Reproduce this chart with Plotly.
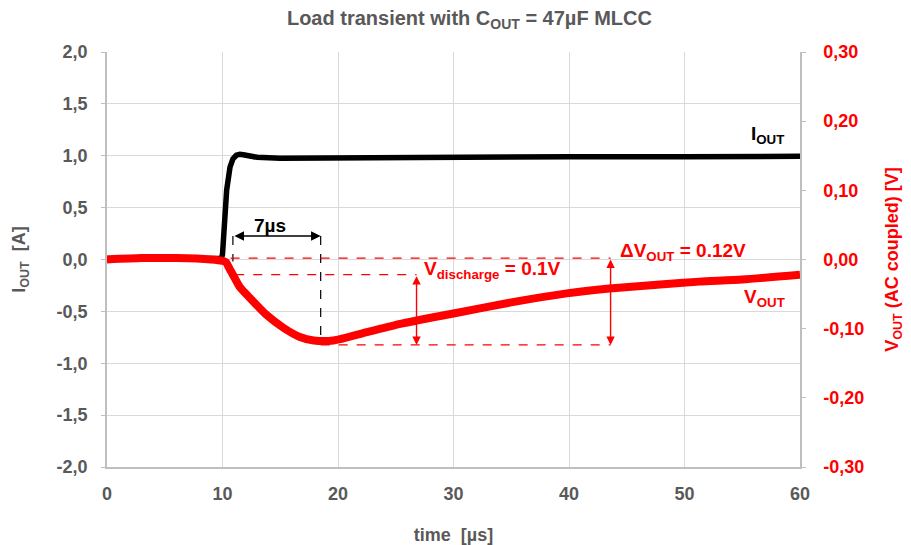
import plotly.graph_objects as go

# ---------------- data ----------------
t_i = [0, 5, 9.9, 10.0, 10.07, 10.36, 10.65, 10.9, 11.2, 11.5, 11.8, 13, 15, 20, 25, 30, 40, 50, 55, 60]
i_out = [0.01, 0.01, 0.01, 0.05, 0.19, 0.67, 0.89, 0.97, 1.005, 1.015, 1.01, 0.985, 0.975, 0.98, 0.985,
         0.99, 0.99, 0.99, 0.995, 0.995]

t_v = [0, 3, 6, 9, 10.0, 10.3, 10.6, 10.9, 11.5, 12.4, 13.8, 15.3, 16.7, 17.9, 19.6, 22.5, 25.4,
       30, 35, 39.8, 43.5, 47.9, 51.3, 55, 60]
v_out = [0.0, 0.002, 0.002, 0.0, -0.002, -0.004, -0.013, -0.022, -0.040, -0.056, -0.080, -0.099,
         -0.112, -0.117, -0.117, -0.105, -0.093, -0.078, -0.062, -0.049, -0.042, -0.036, -0.032,
         -0.029, -0.022]

x_ticks = [0, 10, 20, 30, 40, 50, 60]
i_ticks = [-2.0, -1.5, -1.0, -0.5, 0.0, 0.5, 1.0, 1.5, 2.0]
i_tick_text = ["-2,0", "-1,5", "-1,0", "-0,5", "0,0", "0,5", "1,0", "1,5", "2,0"]
v_ticks = [-0.3, -0.2, -0.1, 0.0, 0.1, 0.2, 0.3]
v_tick_text = ["-0,30", "-0,20", "-0,10", "0,00", "0,10", "0,20", "0,30"]

# annotation levels
t_step = 10.9        # start of step (µs)
t_min = 18.5         # time of minimum (µs)
i_arrow = 0.226      # height of 7µs arrow (A)
v_top = 0.002        # pre-step level (V)
v_knee = -0.022      # knee after ESR drop (V)
v_bottom = -0.1235   # minimum (V)
t_vdis = 26.8        # x of V_discharge arrow
t_dv = 43.6          # x of ΔV arrow

GRAY = "#595959"
RED = "#ff0000"
FONT = "Liberation Sans"
TXT = 19

fig = go.Figure()
fig.add_trace(go.Scatter(x=t_v, y=v_out, yaxis="y2", mode="lines",
                         line=dict(color=RED, width=8, shape="spline", smoothing=0.6),
                         name="VOUT", showlegend=False))
fig.add_trace(go.Scatter(x=t_i, y=i_out, yaxis="y", mode="lines",
                         line=dict(color="black", width=5.5),
                         name="IOUT", showlegend=False))

shapes = []
shapes.append(dict(type="line", xref="x", yref="y", x0=t_step, x1=t_step, y0=i_arrow, y1=-0.02,
                   line=dict(color="black", width=1.2, dash="dash")))
shapes.append(dict(type="line", xref="x", yref="y", x0=t_min, x1=t_min, y0=i_arrow, y1=-0.786,
                   line=dict(color="black", width=1.2, dash="dash")))
shapes.append(dict(type="line", xref="x", yref="y2", x0=10.7, x1=t_dv, y0=v_top, y1=v_top,
                   line=dict(color=RED, width=1.2, dash="dash")))
shapes.append(dict(type="line", xref="x", yref="y2", x0=11.1, x1=t_vdis, y0=v_knee, y1=v_knee,
                   line=dict(color=RED, width=1.2, dash="dash")))
shapes.append(dict(type="line", xref="x", yref="y2", x0=t_min, x1=t_dv, y0=v_bottom, y1=v_bottom,
                   line=dict(color=RED, width=1.2, dash="dash")))

ann = []
ann.append(dict(x=t_min, y=i_arrow, ax=t_step, ay=i_arrow, xref="x", yref="y", axref="x", ayref="y",
                showarrow=True, arrowhead=2, arrowside="end+start", arrowsize=1.2, arrowwidth=1.6,
                arrowcolor="black", text=""))
ann.append(dict(x=14.1, y=0.33, xref="x", yref="y", showarrow=False, text="<b>7µs</b>",
                font=dict(family=FONT, size=TXT, color="black")))
ann.append(dict(x=t_vdis, y=v_bottom, ax=t_vdis, ay=v_knee, xref="x", yref="y2", axref="x", ayref="y2",
                showarrow=True, arrowhead=2, arrowside="end+start", arrowsize=1.2, arrowwidth=1.4,
                arrowcolor=RED, text=""))
ann.append(dict(x=27.3, y=-0.015, xref="x", yref="y2", showarrow=False, xanchor="left",
                text="<b>V<sub>discharge</sub> = 0.1V</b>", font=dict(family=FONT, size=TXT, color=RED)))
ann.append(dict(x=t_dv, y=v_bottom, ax=t_dv, ay=v_top, xref="x", yref="y2", axref="x", ayref="y2",
                showarrow=True, arrowhead=2, arrowside="end+start", arrowsize=1.2, arrowwidth=1.4,
                arrowcolor=RED, text=""))
ann.append(dict(x=44.2, y=0.011, xref="x", yref="y2", showarrow=False, xanchor="left",
                text="<b>ΔV<sub>OUT</sub> = 0.12V</b>", font=dict(family=FONT, size=TXT, color=RED)))
ann.append(dict(x=57.2, y=1.2, xref="x", yref="y", showarrow=False,
                text="<b>I<sub>OUT</sub></b>", font=dict(family=FONT, size=TXT, color="black")))
ann.append(dict(x=56.9, y=-0.056, xref="x", yref="y2", showarrow=False,
                text="<b>V<sub>OUT</sub></b>", font=dict(family=FONT, size=TXT, color=RED)))

fig.update_layout(
    width=903, height=537,
    margin=dict(l=99, r=111, t=44, b=78, autoexpand=False),
    paper_bgcolor="white", plot_bgcolor="white",
    font=dict(family=FONT, color=GRAY),
    title=dict(text="<b>Load transient with C<sub>OUT</sub> = 47µF MLCC</b>", x=0.523, xanchor="center",
               xref="paper", y=0.981, yanchor="middle", font=dict(family=FONT, size=20, color=GRAY)),
    shapes=shapes, annotations=ann,
    xaxis=dict(range=[0, 60], tickvals=x_ticks, showgrid=True, gridcolor="#d9d9d9", gridwidth=1,
               zeroline=False, showline=True, linecolor="#bfbfbf", linewidth=1.5, automargin=False,
               tickfont=dict(family=FONT, size=18, color=GRAY, weight="bold"),
               ticklabelstandoff=10,
               title=dict(text="<b>time  [µs]</b>", font=dict(family=FONT, size=18, color=GRAY), standoff=26)),
    yaxis=dict(range=[-2, 2], tickvals=i_ticks, ticktext=i_tick_text, showgrid=True,
               gridcolor="#d9d9d9", gridwidth=1, zeroline=False, showline=True, automargin=False,
               linecolor="#bfbfbf", linewidth=1.5, ticks="outside", ticklen=4, tickcolor="#bfbfbf",
               tickfont=dict(family=FONT, size=18, color=GRAY, weight="bold"),
               ticklabelstandoff=10,
               title=dict(text="<b>I<sub>OUT</sub>  [A]</b>", font=dict(family=FONT, size=18, color=GRAY), standoff=26)),
    yaxis2=dict(range=[-0.3, 0.3], tickvals=v_ticks, ticktext=v_tick_text, overlaying="y", side="right",
                showgrid=False, zeroline=False, showline=True, linecolor="#bfbfbf", linewidth=1.5,
                ticks="outside", ticklen=4, tickcolor="#bfbfbf", automargin=False,
                tickfont=dict(family=FONT, size=18, color=RED, weight="bold"),
                ticklabelstandoff=14,
                title=dict(text="<b>V<sub>OUT</sub> (AC coupled) [V]</b>", font=dict(family=FONT, size=18, color=RED), standoff=22)),
)

fig.write_html("out.html")
